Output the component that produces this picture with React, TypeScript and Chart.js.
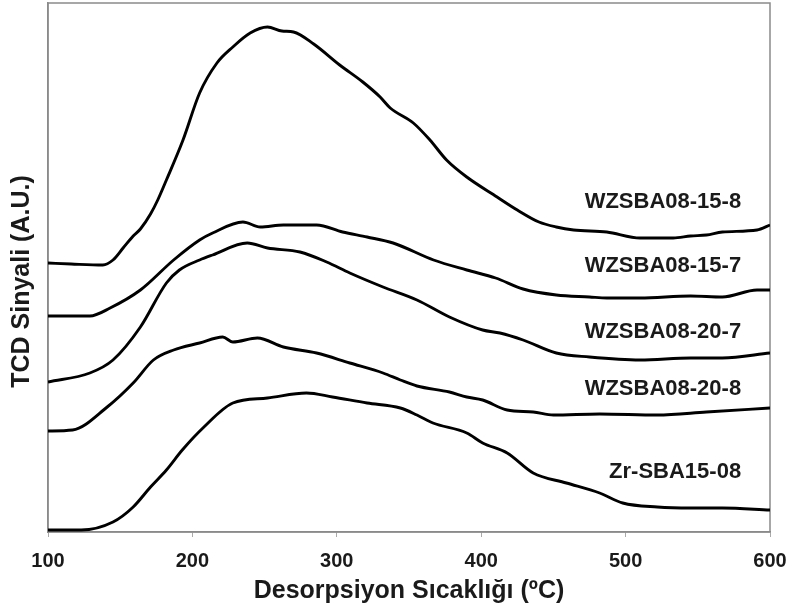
import React, { useEffect, useRef } from "react";
import { Chart, registerables } from "chart.js";

Chart.register(...registerables);

// X values in °C, Y in arbitrary TCD signal units (curves offset as in the figure)
const t158 = [100, 116, 138, 145, 152, 159, 164, 171, 176, 182, 193.5, 205, 217, 228, 240, 252, 262, 270, 284, 302, 318, 330, 337, 353, 364.5, 376, 390, 411, 425, 440, 452, 464, 487, 510, 533, 545, 556, 567, 591, 600];
const v158 = [269, 268, 267, 272, 284, 296, 303, 318, 332, 352, 392, 439, 469, 485, 499, 505, 501, 500, 488, 467, 450, 435, 424, 409, 392, 372, 355, 335, 322, 310, 305, 302, 300, 294, 294, 296, 297, 300, 302, 307];

const t157 = [100, 129, 143, 164, 187, 205, 214, 235, 247, 263, 286, 304, 321, 339, 367, 390, 410, 429, 452, 475, 487, 510, 545, 567, 591, 600];
const v157 = [216, 216, 224, 242, 272, 292, 299, 310, 305, 307, 307, 300, 295, 289, 272, 262, 254, 243, 237, 235, 234, 234, 236, 235, 242, 242];

const t207 = [100, 129, 145, 164, 182, 191, 205, 214, 238, 252, 274.5, 293, 309, 332, 355.5, 378, 401, 413, 429, 452, 475, 510, 545, 567, 600];
const v207 = [150, 159, 172, 205, 249, 262, 272, 277, 289, 284, 280, 270, 259, 245, 232, 215, 202, 199, 192, 179, 175, 172, 174, 174, 179];

const t208 = [100, 117, 141, 159, 173, 187, 205, 221, 228, 245, 263, 286, 309, 332, 344, 355.5, 378, 390, 401, 418, 436, 450, 482, 522, 556, 600];
const v208 = [101, 102, 125, 149, 172, 182, 189, 195, 190, 194, 185, 179, 169, 159, 152, 146, 140, 135, 132, 122, 120, 117, 118, 117, 120, 124];

const tZr = [100, 123, 145, 159, 171, 182, 193, 208, 228, 252, 279, 297, 321, 344, 355.5, 366.6, 390, 401, 418, 436, 459, 482, 498, 522, 545, 567, 600];
const vZr = [2, 2, 10, 25, 45, 62, 82, 105, 129, 134, 139, 135, 129, 124, 117, 109, 99, 89, 79, 59, 49, 39, 29, 25, 24, 24, 22];

const seriesNames = ["WZSBA08-15-8", "WZSBA08-15-7", "WZSBA08-20-7", "WZSBA08-20-8", "Zr-SBA15-08"];
const labelY = [330, 266, 200, 143, 60];
const labelXRight = 580;
const xTicks = [100, 200, 300, 400, 500, 600];
const xTitle = "Desorpsiyon Sıcaklığı (ºC)";
const yTitle = "TCD Sinyali (A.U.)";

const FONT = "'Liberation Sans', Arial, Helvetica, sans-serif";

function pts(t: number[], v: number[]) {
  return t.map((x, i) => ({ x, y: v[i] }));
}

export default function App() {
  const ref = useRef<HTMLCanvasElement | null>(null);
  useEffect(() => {
    if (!ref.current) return;
    const series = [pts(t158, v158), pts(t157, v157), pts(t207, v207), pts(t208, v208), pts(tZr, vZr)];
    const labelPlugin = {
      id: "labels",
      beforeDatasetsDraw(chart: any) {
        const { ctx, chartArea } = chart;
        ctx.save();
        ctx.strokeStyle = "#8a8a8a";
        ctx.lineWidth = 1.5;
        ctx.strokeRect(chartArea.left, chartArea.top, chartArea.right - chartArea.left, chartArea.bottom - chartArea.top);
        ctx.restore();
      },
      afterDraw(chart: any) {
        const { ctx, scales, chartArea } = chart;
        ctx.save();
        ctx.fillStyle = "#1a1a1a";
        ctx.font = `bold 22px ${FONT}`;
        ctx.textAlign = "right";
        ctx.textBaseline = "middle";
        seriesNames.forEach((n, i) => {
          ctx.fillText(n, scales.x.getPixelForValue(labelXRight), scales.y.getPixelForValue(labelY[i]));
        });
        // rotated y-axis title
        ctx.font = `bold 25px ${FONT}`;
        ctx.textAlign = "center";
        ctx.translate(22, (chartArea.top + chartArea.bottom) / 2 + 14);
        ctx.rotate(-Math.PI / 2);
        ctx.fillText(yTitle, 0, 0);
        ctx.restore();
      },
    };
    const chart = new Chart(ref.current, {
      type: "scatter",
      data: {
        datasets: series.map((d, i) => ({
          label: seriesNames[i],
          data: d,
          showLine: true,
          borderColor: "#000000",
          backgroundColor: "#000000",
          borderWidth: 2.9,
          pointRadius: 0,
          cubicInterpolationMode: "monotone" as const,
        })),
      },
      options: {
        responsive: false,
        animation: false,
        layout: { padding: { top: 3, right: 22, bottom: 0, left: 0 } },
        plugins: { legend: { display: false }, tooltip: { enabled: false } },
        scales: {
          x: {
            type: "linear",
            min: 100,
            max: 600,
            afterBuildTicks: (s: any) => {
              s.ticks = xTicks.map((v) => ({ value: v }));
            },
            afterFit: (s: any) => {
              s.height = 80;
            },
            ticks: {
              color: "#1a1a1a",
              font: { family: FONT, size: 20, weight: "bold", lineHeight: 2.0 },
              padding: 4,
              maxRotation: 0,
            },
            grid: { drawOnChartArea: false, drawTicks: true, tickLength: 5, color: "#aaaaaa" },
            border: { display: true, color: "#8a8a8a", width: 1.5 },
            title: {
              display: true,
              text: xTitle,
              color: "#1a1a1a",
              font: { family: FONT, size: 25, weight: "bold" },
              padding: { top: 0, bottom: 6 },
            },
          },
          y: {
            type: "linear",
            min: 0,
            max: 529,
            afterFit: (s: any) => {
              s.width = 48;
            },
            ticks: { display: false },
            grid: { drawOnChartArea: false, drawTicks: false },
            border: { display: true, color: "#8a8a8a", width: 1.5 },
            title: { display: false },
          },
        },
      },
      plugins: [labelPlugin],
    });
    return () => chart.destroy();
  }, []);
  return (
    <div style={{ position: "fixed", left: 0, top: 0, width: 792, height: 612, background: "#ffffff" }}>
      <canvas ref={ref} width={792} height={612} />
    </div>
  );
}
